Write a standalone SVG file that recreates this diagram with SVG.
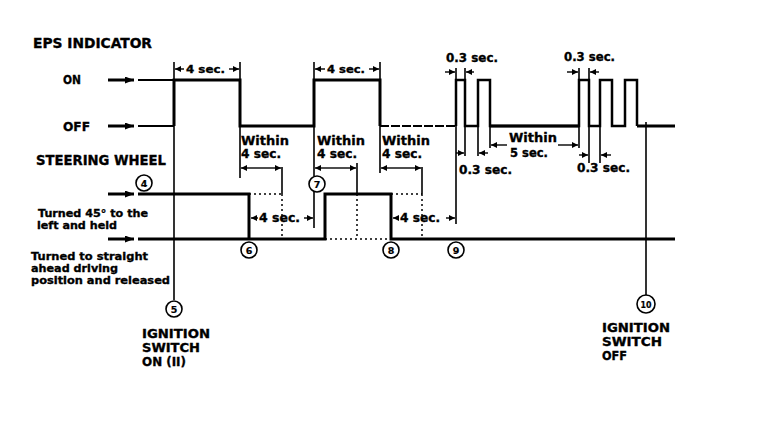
<svg xmlns="http://www.w3.org/2000/svg" width="768" height="446" viewBox="0 0 768 446">
<defs>
<marker id="ah" markerWidth="6" markerHeight="6" refX="6" refY="3" orient="auto" markerUnits="userSpaceOnUse"><path d="M0,0 L6,3 L0,6 z" fill="#000"/></marker>
<marker id="big" markerWidth="9" markerHeight="7" refX="9" refY="3.5" orient="auto" markerUnits="userSpaceOnUse"><path d="M0,0 L9,3.5 L0,7 z" fill="#000"/></marker>
<style>
text{font-family:"DejaVu Sans","Liberation Sans",sans-serif;font-weight:bold;fill:#000;stroke:#000;stroke-width:0.35}
.t13{font-size:13px}.t12{font-size:12px}.t11{font-size:11px}.t14{font-size:13.5px}.ig{font-size:12px}
.num{font-size:9.5px;text-anchor:middle;stroke-width:0.2}
.w{fill:none;stroke:#000;stroke-width:3;stroke-linejoin:miter}
.p{fill:none;stroke:#000;stroke-width:2.5}
.thin{fill:none;stroke:#000;stroke-width:2}
.ext{fill:none;stroke:#000;stroke-width:1.6}
.dim{fill:none;stroke:#000;stroke-width:1.4;marker-end:url(#ah)}
.dot{fill:none;stroke:#000;stroke-width:1.5;stroke-dasharray:2 3}
.dash{fill:none;stroke:#000;stroke-width:1.8;stroke-dasharray:9 2}
.in{fill:none;stroke:#000;stroke-width:3;marker-end:url(#big)}
.c{fill:#fff;stroke:#000;stroke-width:1.6}
</style>
</defs>
<rect width="768" height="446" fill="#fff"/>

<g id="labels">
<text class="t14" x="33" y="48" textLength="119" lengthAdjust="spacingAndGlyphs">EPS INDICATOR</text>
<text class="t13" x="63" y="84" textLength="18" lengthAdjust="spacingAndGlyphs">ON</text>
<text class="t13" x="63" y="131" textLength="27" lengthAdjust="spacingAndGlyphs">OFF</text>
<text class="t14" x="36" y="165" textLength="130" lengthAdjust="spacingAndGlyphs">STEERING WHEEL</text>
<text class="t11" x="38" y="217" textLength="110" lengthAdjust="spacingAndGlyphs">Turned 45° to the</text>
<text class="t11" x="37" y="229" textLength="80" lengthAdjust="spacingAndGlyphs">left and held</text>
<text class="t11" x="31" y="260" textLength="117" lengthAdjust="spacingAndGlyphs">Turned to straight</text>
<text class="t11" x="31" y="272" textLength="87" lengthAdjust="spacingAndGlyphs">ahead driving</text>
<text class="t11" x="31" y="284" textLength="139" lengthAdjust="spacingAndGlyphs">position and released</text>
</g>

<g id="input-arrows">
<line class="in" x1="108" y1="80" x2="134" y2="80"/>
<line class="in" x1="108" y1="126" x2="134" y2="126"/>
<line class="in" x1="108" y1="194" x2="134" y2="194"/>
<line class="in" x1="108" y1="239" x2="134" y2="239"/>
</g>

<g id="eps-waveform">
<line class="thin" x1="138" y1="80" x2="174" y2="80"/>
<line class="thin" x1="138" y1="126" x2="174" y2="126"/>
<path class="w" d="M174,126 V80 H240 V126 H314 V80 H380 V126"/>
<line class="dash" x1="380" y1="126" x2="456" y2="126"/>
<path class="p" d="M456,126 V80 H465 V126 H478 V80 H490 V126 H579 V80 H589 V126 H600 V80 H612 V126 H625 V80 H637 V126"/>
<line class="w" x1="490" y1="126" x2="579" y2="126"/>
<line class="w" x1="637" y1="126" x2="675" y2="126"/>
</g>

<g id="steering-waveform">
<path class="w" d="M138,194 H249 V239"/>
<path class="w" d="M138,239 H325 V194 H391 V239 H675"/>
<line class="dot" x1="325" y1="239" x2="391" y2="239"/>
<line class="dot" x1="249" y1="194" x2="282" y2="194"/>
<line class="dot" x1="391" y1="194" x2="422" y2="194"/>
</g>

<g id="connectors">
<line class="ext" x1="174" y1="62" x2="174" y2="300"/>
<line class="ext" x1="240" y1="62" x2="240" y2="80"/>
<line class="ext" x1="314" y1="62" x2="314" y2="80"/>
<line class="ext" x1="380" y1="62" x2="380" y2="80"/>
<line class="dim" x1="184" y1="69" x2="175" y2="69"/>
<line class="dim" x1="229" y1="69" x2="239" y2="69"/>
<line class="dim" x1="325" y1="69" x2="315" y2="69"/>
<line class="dim" x1="369" y1="69" x2="379" y2="69"/>
<line class="ext" x1="240" y1="126" x2="240" y2="178"/>
<line class="ext" x1="314" y1="126" x2="314" y2="176"/>
<line class="ext" x1="314" y1="192" x2="314" y2="228"/>
<line class="ext" x1="380" y1="126" x2="380" y2="173"/>
<line class="dim" x1="250" y1="168" x2="241" y2="168"/>
<line class="dim" x1="250" y1="168" x2="281" y2="168"/>
<line class="dim" x1="324" y1="168" x2="315" y2="168"/>
<line class="dim" x1="324" y1="168" x2="356" y2="168"/>
<line class="dim" x1="390" y1="168" x2="381" y2="168"/>
<line class="dim" x1="390" y1="168" x2="421" y2="168"/>
<line class="ext" x1="282" y1="167" x2="282" y2="194"/>
<line class="dot" x1="282" y1="194" x2="282" y2="239"/>
<line class="ext" x1="357" y1="163" x2="357" y2="194"/>
<line class="dot" x1="357" y1="194" x2="357" y2="239"/>
<line class="ext" x1="422" y1="167" x2="422" y2="194"/>
<line class="dot" x1="422" y1="194" x2="422" y2="239"/>
<line class="dim" x1="258" y1="218" x2="251" y2="218"/>
<line class="dim" x1="304" y1="218" x2="313" y2="218"/>
<line class="dim" x1="399" y1="218" x2="393" y2="218"/>
<line class="dim" x1="446" y1="218" x2="455" y2="218"/>
<line class="ext" x1="456" y1="68" x2="456" y2="224"/>
<line class="ext" x1="465" y1="68" x2="465" y2="80"/>
<line class="dim" x1="445" y1="72" x2="455" y2="72"/>
<line class="dim" x1="474" y1="72" x2="466" y2="72"/>
<line class="ext" x1="579" y1="68" x2="579" y2="80"/>
<line class="ext" x1="589" y1="68" x2="589" y2="80"/>
<line class="dim" x1="567" y1="72" x2="578" y2="72"/>
<line class="dim" x1="599" y1="72" x2="590" y2="72"/>
<line class="ext" x1="465" y1="126" x2="465" y2="156"/>
<line class="ext" x1="478" y1="126" x2="478" y2="156"/>
<line class="dim" x1="456" y1="153" x2="464" y2="153"/>
<line class="dim" x1="488" y1="153" x2="479" y2="153"/>
<line class="ext" x1="490" y1="126" x2="490" y2="148"/>
<line class="ext" x1="579" y1="126" x2="579" y2="148"/>
<line class="dim" x1="507" y1="145" x2="491" y2="145"/>
<line class="dim" x1="558" y1="145" x2="578" y2="145"/>
<line class="ext" x1="589" y1="126" x2="589" y2="163"/>
<line class="ext" x1="600" y1="126" x2="600" y2="163"/>
<line class="dim" x1="579" y1="155" x2="588" y2="155"/>
<line class="dim" x1="611" y1="155" x2="601" y2="155"/>
<line class="ext" x1="646" y1="122" x2="646" y2="295"/>
</g>

<g id="dim-labels">
<text class="t11" x="186" y="73" textLength="39" lengthAdjust="spacingAndGlyphs">4 sec.</text>
<text class="t11" x="327" y="73" textLength="38" lengthAdjust="spacingAndGlyphs">4 sec.</text>
<text class="t13" x="241" y="145" textLength="48" lengthAdjust="spacingAndGlyphs">Within</text>
<text class="t12" x="241" y="158" textLength="40" lengthAdjust="spacingAndGlyphs">4 sec.</text>
<text class="t13" x="317" y="145" textLength="48" lengthAdjust="spacingAndGlyphs">Within</text>
<text class="t12" x="317" y="158" textLength="40" lengthAdjust="spacingAndGlyphs">4 sec.</text>
<text class="t13" x="382" y="145" textLength="48" lengthAdjust="spacingAndGlyphs">Within</text>
<text class="t12" x="382" y="158" textLength="40" lengthAdjust="spacingAndGlyphs">4 sec.</text>
<text class="t12" x="259" y="222" textLength="41" lengthAdjust="spacingAndGlyphs">4 sec.</text>
<text class="t12" x="400" y="222" textLength="40" lengthAdjust="spacingAndGlyphs">4 sec.</text>
<text class="t12" x="446" y="62" textLength="52" lengthAdjust="spacingAndGlyphs">0.3 sec.</text>
<text class="t12" x="564" y="61" textLength="51" lengthAdjust="spacingAndGlyphs">0.3 sec.</text>
<text class="t12" x="459" y="174" textLength="53" lengthAdjust="spacingAndGlyphs">0.3 sec.</text>
<text class="t12" x="577" y="172" textLength="53" lengthAdjust="spacingAndGlyphs">0.3 sec.</text>
<text class="t13" x="509" y="142" textLength="48" lengthAdjust="spacingAndGlyphs">Within</text>
<text class="t12" x="510" y="157" textLength="38" lengthAdjust="spacingAndGlyphs">5 sec.</text>
</g>

<g id="n4"><circle class="c" cx="144" cy="183" r="8"/><text class="num" x="144" y="186.5">4</text></g>
<g id="n5"><circle class="c" cx="174" cy="309" r="8"/><text class="num" x="174" y="312.5">5</text></g>
<g id="n6"><circle class="c" cx="249" cy="250" r="8"/><text class="num" x="249" y="253.5">6</text></g>
<g id="n7"><circle class="c" cx="317" cy="184" r="8"/><text class="num" x="317" y="187.5">7</text></g>
<g id="n8"><circle class="c" cx="391" cy="250" r="8"/><text class="num" x="391" y="253.5">8</text></g>
<g id="n9"><circle class="c" cx="456" cy="250" r="8"/><text class="num" x="456" y="253.5">9</text></g>
<g id="n10"><circle class="c" cx="646" cy="304" r="9"/><text class="num" x="646" y="307.5" textLength="11" lengthAdjust="spacingAndGlyphs">10</text></g>

<g id="ignition-on">
<text class="ig" x="142" y="338" textLength="68" lengthAdjust="spacingAndGlyphs">IGNITION</text>
<text class="ig" x="142" y="352" textLength="58" lengthAdjust="spacingAndGlyphs">SWITCH</text>
<text class="ig" x="142" y="366" textLength="44" lengthAdjust="spacingAndGlyphs">ON (II)</text>
</g>
<g id="ignition-off">
<text class="ig" x="602" y="332" textLength="68" lengthAdjust="spacingAndGlyphs">IGNITION</text>
<text class="ig" x="602" y="346" textLength="60" lengthAdjust="spacingAndGlyphs">SWITCH</text>
<text class="ig" x="602" y="360" textLength="25" lengthAdjust="spacingAndGlyphs">OFF</text>
</g>
</svg>
